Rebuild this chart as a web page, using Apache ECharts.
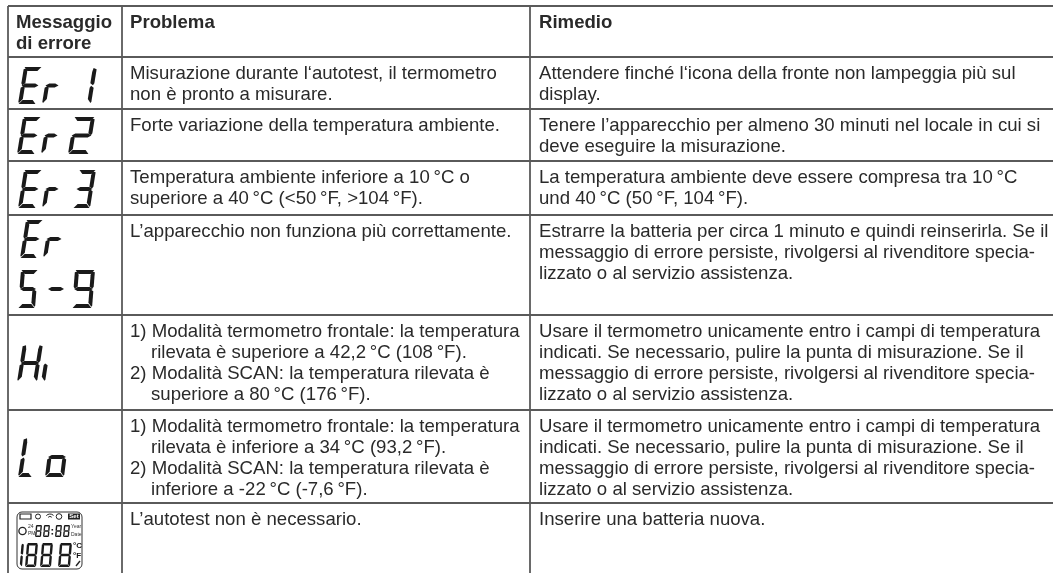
<!DOCTYPE html>
<html>

<head>
	<meta charset="utf-8">
	<script src="https://cdn.jsdelivr.net/npm/echarts@6/dist/echarts.min.js"></script>
	<style>
		html, body { margin: 0; padding: 0; background: #fff; }
	</style>
</head>

<body>
	<div id="main" style="width: 1053px; height: 573px"></div>
	<script type="text/javascript">
		// table content
		var headers = [['Messaggio', 'di errore'], ['Problema'], ['Rimedio']];
		var problems = [
			['Misurazione durante l‘autotest, il termometro', 'non è pronto a misurare.'],
			['Forte variazione della temperatura ambiente.'],
			['Temperatura ambiente inferiore a 10\u2009°C o', 'superiore a 40\u2009°C (<50\u2009°F, >104\u2009°F).'],
			['L’apparecchio non funziona più correttamente.'],
			['1) Modalità termometro frontale: la temperatura', 'rilevata è superiore a 42,2\u2009°C (108\u2009°F).', '2) Modalità SCAN: la temperatura rilevata è', 'superiore a 80\u2009°C (176\u2009°F).'],
			['1) Modalità termometro frontale: la temperatura', 'rilevata è inferiore a 34\u2009°C (93,2\u2009°F).', '2) Modalità SCAN: la temperatura rilevata è', 'inferiore a -22\u2009°C (-7,6\u2009°F).'],
			['L’autotest non è necessario.']
		];
		var remedies = [
			['Attendere finché l‘icona della fronte non lampeggia più sul', 'display.'],
			['Tenere l’apparecchio per almeno 30 minuti nel locale in cui si', 'deve eseguire la misurazione.'],
			['La temperatura ambiente deve essere compresa tra 10\u2009°C', 'und 40\u2009°C (50\u2009°F, 104\u2009°F).'],
			['Estrarre la batteria per circa 1 minuto e quindi reinserirla. Se il', 'messaggio di errore persiste, rivolgersi al rivenditore specia-', 'lizzato o al servizio assistenza.'],
			['Usare il termometro unicamente entro i campi di temperatura', 'indicati. Se necessario, pulire la punta di misurazione. Se il', 'messaggio di errore persiste, rivolgersi al rivenditore specia-', 'lizzato o al servizio assistenza.'],
			['Usare il termometro unicamente entro i campi di temperatura', 'indicati. Se necessario, pulire la punta di misurazione. Se il', 'messaggio di errore persiste, rivolgersi al rivenditore specia-', 'lizzato o al servizio assistenza.'],
			['Inserire una batteria nuova.']
		];

		// table layout, in page pixels
		var columnLines = [8, 122, 530];
		var rowLines = [6, 57, 109, 161, 215, 315, 410, 503];
		var textLeft = [16, 130, 539];
		var lineStep = 20.8;

		// seven segment glyphs
		var glyphSegments = {
			E: 'afged', r: 'eg', '1': 'bc', '2': 'abged', '3': 'abgcd', '5': 'afgcd', '-': 'g',
			'9': 'abcdfg', '8': 'abcdefg', H: 'fbgec', i: 'c', L: 'fed', o: 'gcde'
		};
		// char, left, top, width, height, skew, segment thickness
		var lcdGlyphs = [
			['E', 18, 67, 24, 37, 6, 4], ['r', 42, 67, 20, 37, 6, 4], ['1', 73, 67, 24, 37, 6, 4],
			['E', 17, 117, 24, 37, 6, 4], ['r', 41, 117, 20, 37, 6, 4], ['2', 68, 117, 27, 37, 6, 4],
			['E', 18, 170, 24, 38, 6, 4], ['r', 42, 170, 20, 38, 6, 4], ['3', 73, 170, 23, 38, 6, 4],
			['E', 20, 220, 23, 38, 6, 4], ['r', 43, 220, 22, 38, 6, 4],
			['5', 18, 270, 20, 38, 3, 4], ['-', 46, 270, 20, 38, 3, 4], ['9', 72, 270, 23, 38, 3, 4],
			['H', 17, 344, 26, 38, 6, 4], ['i', 35, 344, 16, 38, 6, 4],
			['L', 18, 437, 20, 40, 6, 4], ['o', 45, 437, 24, 40, 5, 4],
			['8', 35, 525, 7, 12, 1, 1.4], ['8', 43, 525, 7, 12, 1, 1.4], ['8', 55, 525, 7, 12, 1, 1.4], ['8', 63, 525, 7, 12, 1, 1.4],
			['1', 12, 543, 12, 24, 2, 2.4], ['8', 25, 543, 13, 24, 2, 2.4], ['8', 40, 543, 13, 24, 2, 2.4], ['8', 58, 543, 14, 24, 2, 2.4]
		];
		var lcdLabels = [
			['Year', 71, 527], ['Date', 71, 535], ['24', 28, 527], ['PM', 28, 534]
		];

		function segmentPoints(name, t, v) {
			var mid = 0.5, tip = 0.03, n = 0.06;
			// vertical segments come to a point at both ends
			var upper = [[0, n], [v * 0.8, tip], [v, t + 0.03], [v, mid - n], [v * 0.3, mid - 0.01], [0, mid - n]];
			var lower = [[0, mid + n], [v * 0.7, mid + 0.01], [v, mid + n], [v, 1 - t - 0.03], [v * 0.2, 1 - tip], [0, 1 - n]];
			function mirror(points) {
				return points.map(function (p) { return [1 - p[0], p[1]]; });
			}
			return {
				a: [[tip, 0], [1 - tip, 0], [1 - v, t], [v, t]],
				d: [[v, 1 - t], [1 - v, 1 - t], [1 - tip, 1], [tip, 1]],
				g: [[tip, mid], [v, mid - t / 2], [1 - v, mid - t / 2], [1 - tip, mid], [1 - v, mid + t / 2], [v, mid + t / 2]],
				f: upper, e: lower, b: mirror(upper), c: mirror(lower)
			}[name];
		}

		function renderGlyph(params, api) {
			var g = lcdGlyphs[params.dataIndex];
			var t = g[6] / g[4], v = g[6] / (g[3] - g[5]);
			var children = glyphSegments[g[0]].split('').map(function (name) {
				var points = segmentPoints(name, t, v).map(function (p) {
					// skewed like the display of the thermometer
					return api.coord([g[1] + p[0] * (g[3] - g[5]) + (1 - p[1]) * g[5], g[2] + p[1] * g[4]]);
				});
				return { type: 'polygon', shape: { points: points }, style: { fill: '#1a1a1a' } };
			});
			return { type: 'group', children: children };
		}

		// one row per text line: x, y, text, bold
		var textRows = [];
		function pushCell(lines, column, rowTop, bold) {
			var numbered = /^\d\)/.test(lines[0]);
			lines.forEach(function (line, i) {
				var indent = numbered && !/^\d\)/.test(line) ? 21 : 0;
				textRows.push([textLeft[column] + indent, rowTop + 17 + i * lineStep, line, bold]);
			});
		}
		headers.forEach(function (lines, c) { pushCell(lines, c, rowLines[0], true); });
		problems.forEach(function (lines, r) { pushCell(lines, 1, rowLines[r + 1], false); });
		remedies.forEach(function (lines, r) { pushCell(lines, 2, rowLines[r + 1], false); });

		function renderText(params, api) {
			var p = api.coord([api.value(0), api.value(1)]);
			var row = textRows[params.dataIndex];
			return {
				type: 'text', x: p[0], y: p[1],
				style: {
					text: row[2], fill: '#2a2a2a', verticalAlign: 'middle', align: 'left',
					font: (row[3] ? 'bold ' : '') + '18.6px "Liberation Sans", Arial, sans-serif'
				}
			};
		}

		// grid lines: horizontal ones run off the right edge, vertical ones off the bottom
		var ruleRows = rowLines.map(function (y) { return [columnLines[0], y, 1053, y]; })
			.concat(columnLines.map(function (x) { return [x, rowLines[0], x, 573]; }));

		function renderRule(params, api) {
			var a = api.coord([api.value(0), api.value(1)]);
			var b = api.coord([api.value(2), api.value(3)]);
			return {
				type: 'line', shape: { x1: a[0], y1: a[1], x2: b[0], y2: b[1] },
				style: { stroke: '#5a5a5a', lineWidth: 1.8 }
			};
		}

		// small icons of the full display on the last row
		function renderIcon(params, api) {
			var tl = api.coord([17, 512]), br = api.coord([82, 569]);
			var children = [
				{ type: 'rect', shape: { x: tl[0], y: tl[1], width: br[0] - tl[0], height: br[1] - tl[1], r: 5 }, style: { fill: 'none', stroke: '#333', lineWidth: 1 } },
				{ type: 'rect', shape: { x: 20, y: 514, width: 11, height: 5 }, style: { fill: 'none', stroke: '#222', lineWidth: 1.2 } },
				{ type: 'circle', shape: { cx: 38, cy: 516.5, r: 2.5 }, style: { fill: 'none', stroke: '#222', lineWidth: 1 } },
				{ type: 'arc', shape: { cx: 50, cy: 519, r: 5, startAngle: -2.4, endAngle: -0.75 }, style: { fill: 'none', stroke: '#222', lineWidth: 1 } },
				{ type: 'arc', shape: { cx: 50, cy: 519, r: 2.5, startAngle: -2.4, endAngle: -0.75 }, style: { fill: 'none', stroke: '#222', lineWidth: 1 } },
				{ type: 'circle', shape: { cx: 59, cy: 516.5, r: 2.8 }, style: { fill: 'none', stroke: '#222', lineWidth: 1 } },
				{ type: 'rect', shape: { x: 68, y: 513.5, width: 12, height: 6 }, style: { fill: '#222' } },
				{ type: 'text', x: 74, y: 516.5, style: { text: 'Set', fill: '#fff', align: 'center', verticalAlign: 'middle', font: 'bold 6px "Liberation Sans"' } },
				{ type: 'circle', shape: { cx: 22.5, cy: 531, r: 3.6 }, style: { fill: 'none', stroke: '#222', lineWidth: 1.3 } },
				{ type: 'rect', shape: { x: 51.5, y: 529, width: 1.6, height: 1.6 }, style: { fill: '#222' } },
				{ type: 'rect', shape: { x: 51.5, y: 533, width: 1.6, height: 1.6 }, style: { fill: '#222' } },
				{ type: 'text', x: 73, y: 546, style: { text: '°C', fill: '#111', align: 'left', verticalAlign: 'middle', font: 'bold 8px "Liberation Sans"' } },
				{ type: 'text', x: 73, y: 556, style: { text: '°F', fill: '#111', align: 'left', verticalAlign: 'middle', font: 'bold 8px "Liberation Sans"' } },
				{ type: 'line', shape: { x1: 76, y1: 566, x2: 80, y2: 561 }, style: { stroke: '#222', lineWidth: 1.4 } }
			];
			lcdLabels.forEach(function (l) {
				children.push({ type: 'text', x: l[1], y: l[2], style: { text: l[0], fill: '#333', verticalAlign: 'middle', font: '5px "Liberation Sans"' } });
			});
			return { type: 'group', children: children };
		}

		var myChart = echarts.init(document.getElementById('main'), null, { renderer: 'canvas' });
		var option = {
			backgroundColor: '#fff',
			animation: false,
			grid: { left: 0, right: 0, top: 0, bottom: 0 },
			xAxis: { type: 'value', min: 0, max: 1053, show: false },
			yAxis: { type: 'value', min: 0, max: 573, inverse: true, show: false },
			series: [
				{ type: 'custom', silent: true, renderItem: renderRule, data: ruleRows, clip: false },
				{ type: 'custom', silent: true, renderItem: renderGlyph, data: lcdGlyphs.map(function (g) { return [g[1], g[2]]; }) },
				{ type: 'custom', silent: true, renderItem: renderIcon, data: [[17, 512]] },
				{ type: 'custom', silent: true, renderItem: renderText, data: textRows.map(function (r) { return [r[0], r[1]]; }) }
			]
		};
		myChart.setOption(option);
	</script>
</body>

</html>
